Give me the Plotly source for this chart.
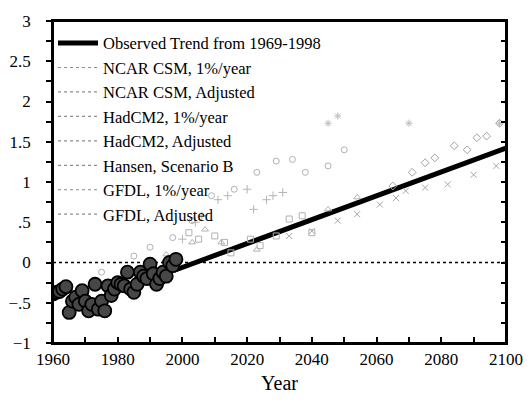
import plotly.graph_objects as go

# Observed annual anomalies 1960-1998
obs_years = list(range(1960, 1999))
obs_vals = [-0.39, -0.37, -0.36, -0.33, -0.30, -0.62, -0.48, -0.43, -0.52, -0.35,
            -0.48, -0.60, -0.52, -0.27, -0.58, -0.48, -0.60, -0.29, -0.41, -0.33,
            -0.25, -0.27, -0.29, -0.12, -0.33, -0.37, -0.27, -0.12, -0.17, -0.20,
            -0.02, -0.14, -0.27, -0.20, -0.12, -0.17, 0.00, -0.04, 0.04]

# Observed trend (1969-1998) extrapolated
trend_years = [1998, 2100]
trend_vals = [-0.09, 1.42]

# Model projections (sparse clusters)
ncar_1_years = [1975, 1985, 1990, 1997, 2003, 2009, 2016, 2023, 2029, 2034, 2038, 2045, 2050]
ncar_1_vals = [-0.12, 0.08, 0.19, 0.31, 0.52, 0.83, 0.91, 1.12, 1.26, 1.28, 1.12, 1.20, 1.40]

ncar_adj_years = [2045, 2048, 2070, 2098, 2100]
ncar_adj_vals = [1.73, 1.82, 1.73, 1.73, 2.00]

had_1_years = [2065, 2071, 2075, 2078, 2084, 2088, 2091, 2094, 2098]
had_1_vals = [0.95, 1.12, 1.24, 1.30, 1.45, 1.40, 1.55, 1.57, 1.73]

had_adj_years = [2033, 2040, 2048, 2054, 2061, 2066, 2069, 2075, 2082, 2090, 2097]
had_adj_vals = [0.33, 0.39, 0.52, 0.60, 0.72, 0.80, 0.89, 0.93, 0.97, 1.09, 1.20]

hansen_years = [2000, 2004, 2006, 2011, 2014, 2020, 2022, 2026, 2028, 2031]
hansen_vals = [0.29, 0.50, 0.58, 0.78, 0.83, 0.91, 0.66, 0.78, 0.83, 0.87]

gfdl_1_years = [2002, 2005, 2010, 2013, 2015, 2021, 2024, 2029, 2033, 2037, 2040]
gfdl_1_vals = [0.37, 0.29, 0.33, 0.25, 0.12, 0.29, 0.21, 0.33, 0.54, 0.58, 0.37]

gfdl_adj_years = [1990, 1995, 2003, 2007, 2012, 2023, 2045, 2054]
gfdl_adj_vals = [-0.05, 0.10, 0.25, 0.41, 0.25, 0.16, 0.66, 0.81]

# Tick positions / labels (blank labels = minor ticks)
x_tick_vals = list(range(1960, 2101, 10))
x_tick_text = ["1960", "", "1980", "", "2000", "", "2020", "", "2040", "", "2060", "",
               "2080", "", "2100"]
y_tick_vals = [-1 + 0.25 * k for k in range(17)]
y_tick_text = ["\u22121", "", "\u2212.5", "", "0", "", ".5", "", "1", "", "1.5", "",
               "2", "", "2.5", "", "3"]

X_RANGE = [1960, 2100]
Y_RANGE = [-1, 3]

FONT = "Liberation Serif, Times New Roman, serif"

fig = go.Figure()

models = [
    ("NCAR CSM, 1%/year", ncar_1_years, ncar_1_vals, "circle-open", "#b0b0b0", "dot"),
    ("NCAR CSM, Adjusted", ncar_adj_years, ncar_adj_vals, "asterisk-open", "#bdbdbd", "dot"),
    ("HadCM2, 1%/year", had_1_years, had_1_vals, "diamond-open", "#a0a0a0", "dot"),
    ("HadCM2, Adjusted", had_adj_years, had_adj_vals, "x-thin-open", "#a6a6a6", "dot"),
    ("Hansen, Scenario B", hansen_years, hansen_vals, "cross-thin-open", "#b4b4b4", "dot"),
    ("GFDL, 1%/year", gfdl_1_years, gfdl_1_vals, "square-open", "#b0b0b0", "dot"),
    ("GFDL, Adjusted", gfdl_adj_years, gfdl_adj_vals, "triangle-up-open", "#b2b2b2", "dot"),
]

# Observed trend (legend first)
fig.add_trace(go.Scatter(
    x=trend_years, y=trend_vals, mode="lines", name="Observed Trend from 1969-1998",
    line=dict(color="black", width=5), legendrank=1))

for i, (name, xs, ys, sym, col, dash) in enumerate(models):
    fig.add_trace(go.Scatter(
        x=xs, y=ys, mode="markers", name=name, showlegend=False, legendgroup=name,
        marker=dict(symbol=sym, size=6, color=col, line=dict(color=col, width=1))))
    fig.add_trace(go.Scatter(
        x=[None], y=[None], mode="lines", name=name, legendgroup=name, legendrank=2 + i,
        line=dict(color="#8c8c8c", width=1.2, dash=dash)))

# Observed annual points
fig.add_trace(go.Scatter(
    x=obs_years, y=obs_vals, mode="markers", showlegend=False, name="Observed",
    marker=dict(size=13, color="#474747", line=dict(color="black", width=1.8))))

# anchor for the right-hand tick axis
fig.add_trace(go.Scatter(x=[None], y=[None], yaxis="y2", showlegend=False, hoverinfo="skip"))

# Dotted zero line
fig.add_shape(type="line", xref="x", x0=X_RANGE[0], x1=X_RANGE[1], yref="y", y0=0, y1=0,
              line=dict(color="black", width=1.3, dash="dot"), layer="below")
# Frame edges in data coordinates
for (x0, x1, y0, y1) in [(X_RANGE[0], X_RANGE[1], Y_RANGE[1], Y_RANGE[1]),
                         (X_RANGE[1], X_RANGE[1], Y_RANGE[0], Y_RANGE[1]),
                         (X_RANGE[0], X_RANGE[1], Y_RANGE[0], Y_RANGE[0]),
                         (X_RANGE[0], X_RANGE[0], Y_RANGE[0], Y_RANGE[1])]:
    fig.add_shape(type="line", xref="x", yref="y", x0=x0, x1=x1, y0=y0, y1=y1,
                  line=dict(color="black", width=2), layer="above")

fig.update_layout(
    width=532, height=404,
    margin=dict(l=53, r=26, t=21, b=61, autoexpand=False),
    paper_bgcolor="white", plot_bgcolor="white",
    font=dict(family=FONT, color="black"),
    showlegend=True,
    legend=dict(x=0.0, y=0.985, xanchor="left", yanchor="top",
                bgcolor="rgba(255,255,255,0)", borderwidth=0,
                font=dict(family=FONT, size=16.5, color="black"),
                itemwidth=40, tracegroupgap=0, traceorder="normal"),
    xaxis=dict(range=X_RANGE, tickvals=x_tick_vals, ticktext=x_tick_text,
               ticks="inside", ticklen=6, tickwidth=1.5, tickcolor="black",
               showgrid=False, zeroline=False,
               showline=True, linecolor="black", linewidth=1.5, mirror=True,
               automargin=False,
               tickfont=dict(family=FONT, size=17),
               title=dict(text="Year", font=dict(family=FONT, size=20), standoff=8)),
    yaxis=dict(range=Y_RANGE, tickvals=y_tick_vals, ticktext=y_tick_text, ticks="outside",
               ticklen=5, tickwidth=1.5, tickcolor="black", showgrid=False, zeroline=False,
               showline=True, linecolor="black", linewidth=1.5, mirror=True,
               automargin=False,
               tickfont=dict(family=FONT, size=17), ticklabelstandoff=12),
    yaxis2=dict(range=Y_RANGE, overlaying="y", side="right", showticklabels=False,
                tickvals=y_tick_vals, ticks="inside", ticklen=5, tickwidth=1.5,
                tickcolor="black", showgrid=False, zeroline=False, showline=True,
                linecolor="black", linewidth=1.5, automargin=False),
)

fig.write_html("out.html", config={"displayModeBar": False},
               post_script="document.body.style.margin='0';document.body.style.overflow='hidden';")
